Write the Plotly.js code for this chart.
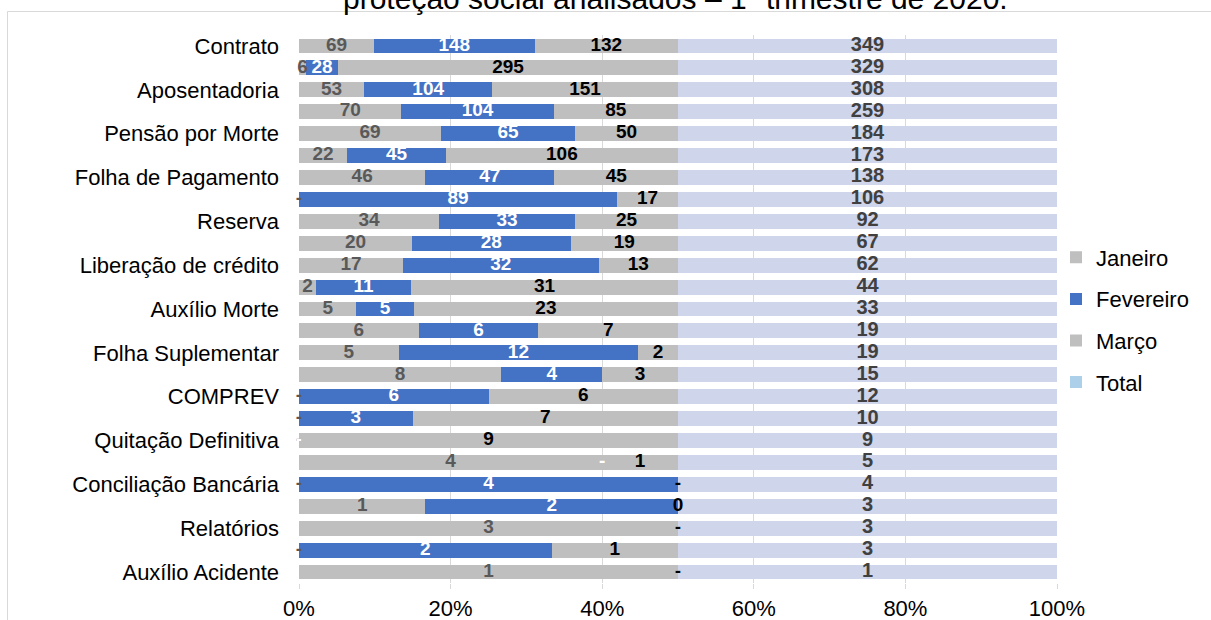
<!DOCTYPE html>
<html>
<head>
<meta charset="utf-8">
<script src="https://cdn.plot.ly/plotly-3.0.1.min.js"></script>
<style>html,body{margin:0;padding:0;background:#fff}#chart{width:1211px;height:620px}</style>
</head>
<body>
<div id="chart"></div>
<script>
// Row labels (Excel showed only every other category label)
const categories = [
  "Contrato", "", "Aposentadoria", "", "Pensão por Morte", "", "Folha de Pagamento", "",
  "Reserva", "", "Liberação de crédito", "", "Auxílio Morte", "", "Folha Suplementar", "",
  "COMPREV", "", "Quitação Definitiva", "", "Conciliação Bancária", "", "Relatórios", "",
  "Auxílio Acidente"
];
const janeiro   = [69, 6, 53, 70, 69, 22, 46, 0, 34, 20, 17, 2, 5, 6, 5, 8, 0, 0, 0, 4, 0, 1, 3, 0, 1];
const fevereiro = [148, 28, 104, 104, 65, 45, 47, 89, 33, 28, 32, 11, 5, 6, 12, 4, 6, 3, 0, 0, 4, 2, 0, 2, 0];
const marco     = [132, 295, 151, 85, 50, 106, 45, 17, 25, 19, 13, 31, 23, 7, 2, 3, 6, 7, 9, 1, 0, 0, 0, 1, 0];
const total     = [349, 329, 308, 259, 184, 173, 138, 106, 92, 67, 62, 44, 33, 19, 19, 15, 12, 10, 9, 5, 4, 3, 3, 3, 1];
const marcoZeroShownAsZero = [21]; // this zero was printed as "0" instead of "-"
const seriesNames = ["Janeiro", "Fevereiro", "Março", "Total"];
const xTicks = [0, 20, 40, 60, 80, 100];

// ---- geometry helpers (pixel -> paper) ----
const M = {l: 299, r: 154, t: 35, b: 37};
const PW = 1211 - M.l - M.r, PH = 620 - M.t - M.b;
const px2x = p => (p - M.l) / PW;
const py2y = p => 1 - (p - M.t) / PH;

const idx = categories.map((_, i) => i);
const GRAY = "#bfbfbf", BLUE = "#4472c4", TOT = "#cfd5ea", TOT_LEG = "#acd0ea";

const lbl = (v) => v === 0 ? "-" : String(v);
const sums = idx.map(i => janeiro[i] + fevereiro[i] + marco[i] + total[i]);
const pct = (v, i) => v / sums[i] * 100;
const midJ = idx.map(i => pct(janeiro[i], i) / 2);
const midF = idx.map(i => pct(janeiro[i], i) + pct(fevereiro[i], i) / 2);
const midM = idx.map(i => pct(janeiro[i] + fevereiro[i], i) + pct(marco[i], i) / 2);
const midT = idx.map(i => pct(janeiro[i] + fevereiro[i] + marco[i], i) + pct(total[i], i) / 2);

const barBase = {type: "bar", orientation: "h", y: idx, hoverinfo: "skip"};
const traces = [
  Object.assign({}, barBase, {name: seriesNames[0], x: janeiro, marker: {color: GRAY}, legendgroup: "a"}),
  Object.assign({}, barBase, {name: seriesNames[1], x: fevereiro, marker: {color: BLUE}, legendgroup: "b"}),
  Object.assign({}, barBase, {name: seriesNames[2], x: marco, marker: {color: GRAY}, legendgroup: "c"}),
  Object.assign({}, barBase, {name: seriesNames[3], x: total, marker: {color: TOT}, showlegend: false, legendgroup: "e"}),
  // legend-only entry for Total (legend swatch colour differs from bars)
  {type: "bar", orientation: "h", name: seriesNames[3], x: [null], y: [null], marker: {color: TOT_LEG}, legendgroup: "d", hoverinfo: "skip"}
];

const txt = (x, text, color, size) => ({
  type: "scatter", mode: "text", x: x, y: idx, text: text, cliponaxis: false,
  textposition: "middle center", showlegend: false, hoverinfo: "skip",
  textfont: {family: "Liberation Sans, Arial, sans-serif", size: size, color: color, weight: "bold"}
});
traces.push(txt(midJ, janeiro.map(lbl), "#595959", 19));
traces.push(txt(midF, fevereiro.map(lbl), "#ffffff", 19));
traces.push(txt(midM, marco.map((v, i) => marcoZeroShownAsZero.includes(i) ? "0" : lbl(v)), "#000000", 19));
traces.push(txt(midT, total.map(lbl), "#404040", 20));

const layout = {
  width: 1211, height: 620,
  margin: M,
  paper_bgcolor: "#ffffff", plot_bgcolor: "#ffffff",
  font: {family: "Liberation Sans, Arial, sans-serif", size: 22, color: "#000"},
  barmode: "stack", barnorm: "percent", bargap: 0.32,
  showlegend: true,
  legend: {
    x: px2x(1056), xanchor: "left", y: py2y(320), yanchor: "middle",
    font: {size: 22, color: "#000"}, traceorder: "grouped", tracegroupgap: 10,
    bgcolor: "rgba(0,0,0,0)"
  },
  xaxis: {
    range: [0, 100], tickvals: xTicks, ticktext: xTicks.map(v => v + "%"),
    showgrid: true, gridcolor: "#d9d9d9", gridwidth: 1, zeroline: false,
    showline: false, ticks: "outside", ticklen: 5, tickcolor: "#d9d9d9",
    tickfont: {size: 22, color: "#000"}, ticklabelstandoff: 1, fixedrange: true
  },
  yaxis: {
    range: [24.5, -0.5], tickvals: idx.filter(i => categories[i] !== ""),
    ticktext: categories.filter(c => c !== ""),
    showgrid: false, zeroline: false, showline: false, ticks: "",
    tickfont: {size: 22, color: "#000"}, ticklabelstandoff: 19, fixedrange: true
  },
  annotations: [{
    text: "proteção social analisados – 1º trimestre de 2020.",
    xref: "paper", yref: "paper", x: px2x(675), y: py2y(-2), xanchor: "center", yanchor: "middle",
    showarrow: false, font: {size: 30, color: "#000"}
  }],
  shapes: [
    {type: "line", xref: "paper", yref: "paper", x0: px2x(7.5), x1: px2x(1212), y0: py2y(11.5), y1: py2y(11.5), line: {color: "#d9d9d9", width: 1}},
    {type: "line", xref: "paper", yref: "paper", x0: px2x(7.5), x1: px2x(7.5), y0: py2y(11.5), y1: py2y(621), line: {color: "#d9d9d9", width: 1}}
  ]
};

Plotly.newPlot("chart", traces, layout, {staticPlot: true, displayModeBar: false});
</script>
</body>
</html>
